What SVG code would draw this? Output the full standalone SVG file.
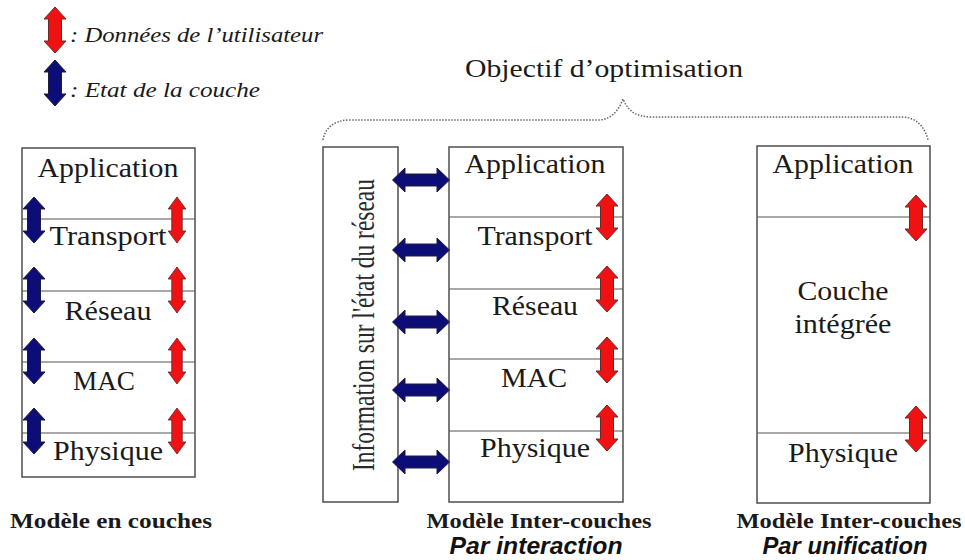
<svg xmlns="http://www.w3.org/2000/svg" xmlns:xlink="http://www.w3.org/1999/xlink" width="965" height="560" viewBox="0 0 965 560">
  <style>
    .box { fill: #ffffff; stroke: #4d4d4d; stroke-width: 1.5; }
    .sep { stroke: #555555; stroke-width: 1.2; }
    .lbl { font-family: 'Liberation Serif', 'DejaVu Serif', serif; font-size: 27px; fill: #1a1a1a; text-anchor: middle; }
    .cap { font-family: 'Liberation Serif', 'DejaVu Serif', serif; font-size: 22px; font-weight: bold; fill: #1a1a1a; text-anchor: middle; }
    .sub { font-family: 'Liberation Sans', 'DejaVu Sans', sans-serif; font-size: 23px; font-weight: bold; font-style: italic; fill: #111111; text-anchor: middle; }
    .leg { font-family: 'Liberation Serif', 'DejaVu Serif', serif; font-size: 20px; font-style: italic; fill: #1a1a1a; }
    .title { font-family: 'Liberation Serif', 'DejaVu Serif', serif; font-size: 25px; fill: #1a1a1a; text-anchor: middle; }
    .vert { font-family: 'Liberation Serif', 'DejaVu Serif', serif; font-size: 31px; fill: #2a2a2a; text-anchor: middle; }
    .red { fill: #f01212; stroke: #6a2a2a; stroke-width: 1; }
    .blue { fill: #0d0d78; stroke: #1e1e3c; stroke-width: 1; }
    .brace { fill: none; stroke: #666666; stroke-width: 1.5; stroke-dasharray: 1.5 1.5; }
  </style>
  <defs>
    <!-- vertical double-headed block arrow, 22 x 46, centred on origin -->
    <path id="va" d="M0,-23 L11,-11 L6.5,-11 L6.5,11 L11,11 L0,23 L-11,11 L-6.5,11 L-6.5,-11 L-11,-11 Z"/>
    <!-- horizontal double-headed block arrow, 57 x 24, centred on origin -->
    <path id="ha" d="M-28.5,0 L-16,-12 L-16,-6 L16,-6 L16,-12 L28.5,0 L16,12 L16,6 L-16,6 L-16,12 Z"/>
  </defs>

  <rect width="965" height="560" fill="#ffffff"/>

  <!-- legend -->
  <g id="legend">
    <use xlink:href="#va" class="red" transform="translate(55,30)"/>
    <text class="leg" x="70" y="42" textLength="253" lengthAdjust="spacingAndGlyphs">: Données de l’utilisateur</text>
    <use xlink:href="#va" class="blue" transform="translate(55,83)"/>
    <text class="leg" x="70" y="97" textLength="190" lengthAdjust="spacingAndGlyphs">: Etat de la couche</text>
  </g>

  <!-- optimisation objective with dotted brace -->
  <g id="objective">
    <text class="title" x="604" y="77" textLength="278" lengthAdjust="spacingAndGlyphs">Objectif d’optimisation</text>
    <path class="brace" d="M323,140 C325,128 334,120 350,120 L598,120 C610,120 618,112 623,99 C628,111 636,117 652,117 L902,117 C916,117 925,127 928,140"/>
  </g>

  <!-- layered model -->
  <g id="layered-model">
    <rect class="box" x="22" y="148" width="173" height="329"/>
    <line class="sep" x1="22" y1="219" x2="195" y2="219"/>
    <line class="sep" x1="22" y1="291" x2="195" y2="291"/>
    <line class="sep" x1="22" y1="362" x2="195" y2="362"/>
    <line class="sep" x1="22" y1="433" x2="195" y2="433"/>
    <g id="l-application"><text class="lbl" x="108" y="177" textLength="141" lengthAdjust="spacingAndGlyphs">Application</text></g>
    <g id="l-transport"><text class="lbl" x="108" y="245" textLength="117" lengthAdjust="spacingAndGlyphs">Transport</text></g>
    <g id="l-reseau"><text class="lbl" x="108" y="320" textLength="87" lengthAdjust="spacingAndGlyphs">Réseau</text></g>
    <g id="l-mac"><text class="lbl" x="104" y="390" textLength="62" lengthAdjust="spacingAndGlyphs">MAC</text></g>
    <g id="l-physique"><text class="lbl" x="108" y="460" textLength="110" lengthAdjust="spacingAndGlyphs">Physique</text></g>
    <text class="cap" x="111" y="528" textLength="202" lengthAdjust="spacingAndGlyphs">Modèle en couches</text>
  </g>

  <!-- cross-layer model by interaction -->
  <g id="interaction-model">
    <g id="network-state">
      <rect class="box" x="323" y="147" width="75" height="355"/>
      <text class="vert" transform="translate(374,325) rotate(-90)" textLength="292" lengthAdjust="spacingAndGlyphs">Information sur l'état du réseau</text>
    </g>
    <rect class="box" x="449" y="147" width="174" height="355"/>
    <line class="sep" x1="449" y1="217" x2="623" y2="217"/>
    <line class="sep" x1="449" y1="289" x2="623" y2="289"/>
    <line class="sep" x1="449" y1="359" x2="623" y2="359"/>
    <line class="sep" x1="449" y1="431" x2="623" y2="431"/>
    <g id="i-application"><text class="lbl" x="535" y="173" textLength="141" lengthAdjust="spacingAndGlyphs">Application</text></g>
    <g id="i-transport"><text class="lbl" x="535" y="245" textLength="115" lengthAdjust="spacingAndGlyphs">Transport</text></g>
    <g id="i-reseau"><text class="lbl" x="535" y="315" textLength="86" lengthAdjust="spacingAndGlyphs">Réseau</text></g>
    <g id="i-mac"><text class="lbl" x="534" y="387" textLength="66" lengthAdjust="spacingAndGlyphs">MAC</text></g>
    <g id="i-physique"><text class="lbl" x="535" y="457" textLength="110" lengthAdjust="spacingAndGlyphs">Physique</text></g>
    <text class="cap" x="539" y="528" textLength="225" lengthAdjust="spacingAndGlyphs">Modèle Inter-couches</text>
    <text class="sub" x="536" y="554" textLength="173" lengthAdjust="spacingAndGlyphs">Par interaction</text>
  </g>

  <!-- cross-layer model by unification -->
  <g id="unification-model">
    <rect class="box" x="757" y="146" width="173" height="357"/>
    <line class="sep" x1="757" y1="217" x2="930" y2="217"/>
    <line class="sep" x1="757" y1="433" x2="930" y2="433"/>
    <g id="u-application"><text class="lbl" x="843" y="173" textLength="141" lengthAdjust="spacingAndGlyphs">Application</text></g>
    <g id="u-integree">
      <text class="lbl" x="843" y="300" textLength="91" lengthAdjust="spacingAndGlyphs">Couche</text>
      <text class="lbl" x="843" y="333" textLength="97" lengthAdjust="spacingAndGlyphs">intégrée</text>
    </g>
    <g id="u-physique"><text class="lbl" x="843" y="462" textLength="110" lengthAdjust="spacingAndGlyphs">Physique</text></g>
    <text class="cap" x="849" y="528" textLength="225" lengthAdjust="spacingAndGlyphs">Modèle Inter-couches</text>
    <text class="sub" x="845" y="554" textLength="165" lengthAdjust="spacingAndGlyphs">Par unification</text>
  </g>

  <!-- connectors: data flow (red) and layer state (blue) -->
  <g id="connectors">
    <!-- layered model -->
    <use xlink:href="#va" class="blue" transform="translate(34,220)"/>
    <use xlink:href="#va" class="blue" transform="translate(34,290)"/>
    <use xlink:href="#va" class="blue" transform="translate(34,361)"/>
    <use xlink:href="#va" class="blue" transform="translate(34,431)"/>
    <use xlink:href="#va" class="red" transform="translate(177,220) scale(0.8,1)"/>
    <use xlink:href="#va" class="red" transform="translate(177,290) scale(0.8,1)"/>
    <use xlink:href="#va" class="red" transform="translate(177,361) scale(0.8,1)"/>
    <use xlink:href="#va" class="red" transform="translate(177,431) scale(0.8,1)"/>
    <!-- interaction model -->
    <use xlink:href="#ha" class="blue" transform="translate(421,180)"/>
    <use xlink:href="#ha" class="blue" transform="translate(421,250)"/>
    <use xlink:href="#ha" class="blue" transform="translate(421,322)"/>
    <use xlink:href="#ha" class="blue" transform="translate(421,390)"/>
    <use xlink:href="#ha" class="blue" transform="translate(421,462)"/>
    <use xlink:href="#va" class="red" transform="translate(607,217)"/>
    <use xlink:href="#va" class="red" transform="translate(607,289)"/>
    <use xlink:href="#va" class="red" transform="translate(607,360)"/>
    <use xlink:href="#va" class="red" transform="translate(607,428)"/>
    <!-- unification model -->
    <use xlink:href="#va" class="red" transform="translate(916,218)"/>
    <use xlink:href="#va" class="red" transform="translate(916,429)"/>
  </g>
</svg>
